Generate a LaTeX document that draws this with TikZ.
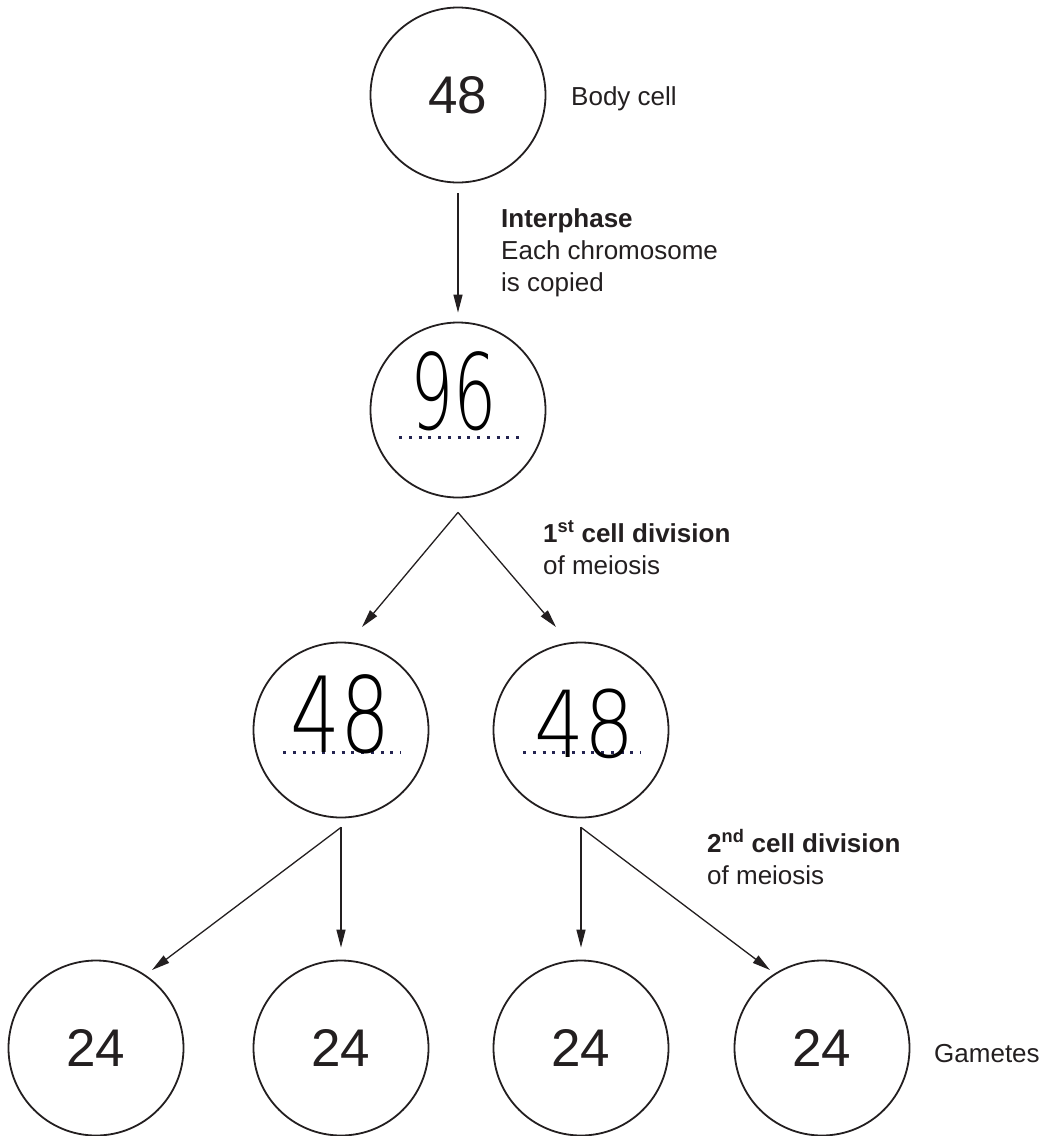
\documentclass[tikz,border=0pt]{standalone}
\usepackage{fontspec}
\setmainfont{Liberation Sans}
\newfontfamily\hand{DejaVu Sans ExtraLight}
\usetikzlibrary{arrows.meta,calc}
\definecolor{ink}{HTML}{231F20}
\definecolor{dotc}{RGB}{35,35,80}
\begin{document}
\begin{tikzpicture}[x=1pt,y=-1pt,
  cell/.style={circle,draw=ink,line width=1.8pt,minimum size=175pt,inner sep=0pt,text=ink,font=\fontsize{53}{60}\selectfont},
  conn/.style={draw=ink,line width=1.3pt,-{Triangle[length=18pt,width=9pt]}},
  lbl/.style={text=ink,font=\fontsize{26}{32}\selectfont,inner sep=0pt,align=left},
  handw/.style={text=black,font=\hand\fontsize{105}{105}\selectfont,inner sep=0pt},
  dots/.style={draw=dotc,line width=3pt,dash pattern=on 3pt off 6.75pt}]
\useasboundingbox (0,0) rectangle (1047,1136);
% cells
\node[cell] (c1) at (458,95) {48};
\node[cell] (c2) at (458,410) {};
\node[cell] (m1) at (341,730) {};
\node[cell] (m2) at (581,730) {};
\node[cell] (g1) at (96,1048) {24};
\node[cell] (g2) at (341,1048) {24};
\node[cell] (g3) at (581,1048) {24};
\node[cell] (g4) at (822,1048) {24};
% handwritten answers and dotted answer lines
\draw[dots] ([xshift=-59pt,yshift=-27pt]c2.center) -- ([xshift=61pt,yshift=-27pt]c2.center);
\draw[dots] ([xshift=-58pt,yshift=-22pt]m1.center) -- ([xshift=60pt,yshift=-22pt]m1.center);
\draw[dots] ([xshift=-58pt,yshift=-22pt]m2.center) -- ([xshift=60pt,yshift=-22pt]m2.center);
\node[handw,xscale=0.65] (h2) at (454,391) {96};
\node[handw,xscale=0.75] (h3) at (341,714) {48};
\node[handw,xscale=0.75,yscale=0.88] (h4) at (585,724) {48};
% connectors
\draw[conn,shorten <=10pt,shorten >=9pt] (c1) -- (c2);
\coordinate (a2) at ([yshift=-14pt]c2.south);
\coordinate (t21) at (362,627);
\coordinate (t22) at (556,627);
\draw[conn] (a2) -- (t21);
\draw[conn] (a2) -- (t22);
\coordinate (a3) at ([yshift=-9pt]m1.south);
\coordinate (a4) at ([yshift=-9pt]m2.south);
\coordinate (t31) at (152,970);
\coordinate (t44) at (770,970);
\draw[conn] (a3) -- (t31);
\draw[conn,shorten >=12pt] (a3) -- (g2.north);
\draw[conn,shorten >=12pt] (a4) -- (g3.north);
\draw[conn] (a4) -- (t44);
% labels (base of a multi-line node = baseline of its last line)
\node[lbl,anchor=base west] (body) at (571,105) {Body cell};
\node[lbl,anchor=base west] (inter) at (501,291) {\textbf{Interphase}\\Each chromosome\\is copied};
\node[lbl,anchor=base west] (div1) at (543,574) {\textbf{1\textsuperscript{st} cell division}\\of meiosis};
\node[lbl,anchor=base west] (div2) at (707,884) {\textbf{2\textsuperscript{nd} cell division}\\of meiosis};
\node[lbl,anchor=base west] (gam) at (934,1062) {Gametes};
\end{tikzpicture}
\end{document}
